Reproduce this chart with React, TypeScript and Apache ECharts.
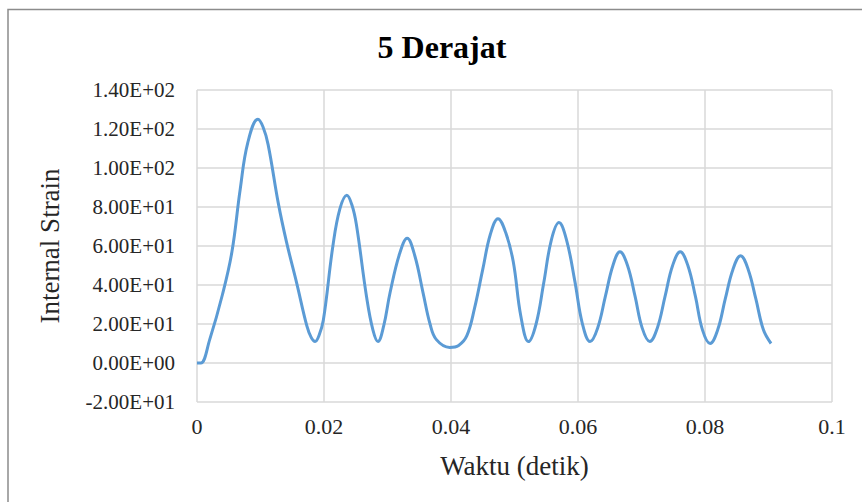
import React, { useEffect, useRef } from "react";
import * as echarts from "echarts";

const titleText = "5 Derajat";
const xAxisName = "Waktu (detik)";
const yAxisName = "Internal Strain";

const timeValues = [
  0, 0.0006, 0.002, 0.004, 0.0055, 0.0068, 0.008, 0.0096, 0.0104, 0.0112, 0.0128,
  0.0141, 0.0157, 0.0173, 0.018, 0.0186, 0.0192, 0.0199, 0.0214, 0.0225, 0.0236,
  0.0244, 0.0251, 0.0267, 0.0277, 0.0285, 0.0294, 0.0304, 0.0319, 0.0331, 0.0343,
  0.0356, 0.0367, 0.0377, 0.0398, 0.0412, 0.0425, 0.0437, 0.045, 0.0462, 0.0474,
  0.0486, 0.0498, 0.051, 0.0522, 0.0534, 0.0546, 0.0558, 0.057, 0.0582, 0.0595,
  0.0607, 0.0619, 0.0631, 0.0643, 0.0655, 0.0666, 0.0678, 0.069, 0.0701, 0.0713,
  0.0725, 0.0737, 0.0749, 0.0761, 0.0773, 0.0785, 0.0796, 0.0808, 0.082, 0.0832,
  0.0844, 0.0856, 0.0868, 0.088, 0.0892, 0.0904,
];
const strainValues = [
  0, 0, 12, 35, 57, 89, 113, 125, 121, 112, 82,
  62, 41, 19, 13, 11, 14, 22, 60, 79, 86,
  81, 71, 34, 17, 11, 19, 36, 56, 64, 55,
  36, 20, 12, 8, 9, 14, 28, 48, 66, 74,
  67, 52, 24, 11, 20, 41, 63, 72, 63, 42,
  20, 11, 18, 34, 50, 57, 50, 34, 18, 11,
  18, 34, 50, 57, 50, 34, 17, 10, 17, 33,
  48, 55, 48, 33, 17, 10,
];

const yMin = -20;
const yMax = 140;
const yStep = 20;
const xMin = 0;
const xMax = 0.1;
const xStep = 0.02;

function sci(v: number): string {
  if (v === 0) return "0.00E+00";
  const sign = v < 0 ? "-" : "";
  const a = Math.abs(v);
  let e = Math.floor(Math.log10(a));
  let m = a / Math.pow(10, e);
  if (Number(m.toFixed(2)) >= 10) {
    m /= 10;
    e += 1;
  }
  const es = (e < 0 ? "-" : "+") + String(Math.abs(e)).padStart(2, "0");
  return sign + m.toFixed(2) + "E" + es;
}

export default function App() {
  const ref = useRef<HTMLDivElement>(null);
  useEffect(() => {
    document.body.style.margin = "0";
    const chart = echarts.init(ref.current!, null, { renderer: "svg" });
    const font = "'Liberation Serif', 'Times New Roman', serif";
    const data = timeValues.map((t, i) => [t, strainValues[i]]);
    chart.setOption({
      animation: false,
      backgroundColor: "#ffffff",
      grid: { left: 197, right: 30, top: 90, bottom: 100, containLabel: false },
      graphic: [
        {
          type: "rect",
          shape: { x: 8, y: 9.5, width: 1000, height: 1000 },
          style: { fill: "none", stroke: "#8c8c8c", lineWidth: 1.5 },
          silent: true,
        },
        {
          type: "text",
          x: 442,
          y: 47,
          style: {
            text: titleText,
            fontFamily: font,
            fontSize: 32,
            fontWeight: "bold",
            fill: "#000000",
            textAlign: "center",
            textVerticalAlign: "middle",
          },
        },
      ],
      xAxis: {
        type: "value",
        min: xMin,
        max: xMax,
        interval: xStep,
        name: xAxisName,
        nameLocation: "middle",
        nameGap: 50,
        nameTextStyle: { fontFamily: font, fontSize: 27, color: "#262626" },
        axisLine: { show: false },
        axisTick: { show: false },
        axisLabel: {
          fontFamily: font,
          fontSize: 22,
          color: "#262626",
          margin: 13,
          formatter: (v: number) => String(parseFloat(v.toFixed(4))),
        },
        splitLine: { show: true, lineStyle: { color: "#d9d9d9", width: 1.5 } },
      },
      yAxis: {
        type: "value",
        min: yMin,
        max: yMax,
        interval: yStep,
        name: yAxisName,
        nameLocation: "middle",
        nameGap: 134,
        nameTextStyle: { fontFamily: font, fontSize: 27, color: "#262626" },
        axisLine: { show: false },
        axisTick: { show: false },
        axisLabel: {
          fontFamily: font,
          fontSize: 21,
          color: "#262626",
          margin: 22,
          formatter: (v: number) => sci(v),
        },
        splitLine: { show: true, lineStyle: { color: "#d9d9d9", width: 1.5 } },
      },
      series: [
        {
          type: "line",
          data,
          smooth: 0.4,
          showSymbol: false,
          symbol: "none",
          lineStyle: { color: "#5b9bd5", width: 3 },
        },
      ],
    });
    return () => chart.dispose();
  }, []);
  return <div ref={ref} style={{ width: 862, height: 502 }} />;
}
